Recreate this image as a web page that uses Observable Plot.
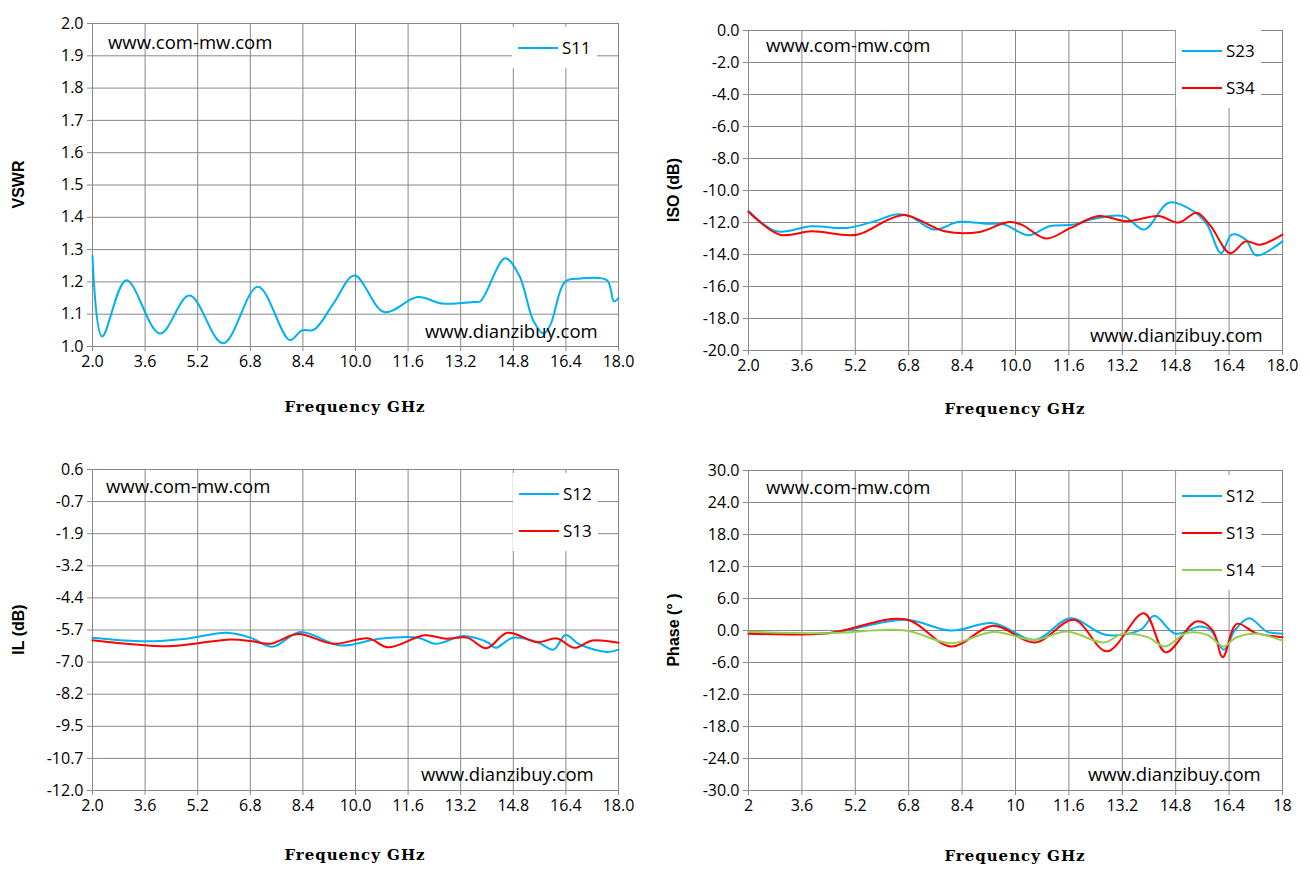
<!DOCTYPE html>
<html><head><meta charset="utf-8">
<script src="https://cdn.jsdelivr.net/npm/d3@7"></script>
<script src="https://cdn.jsdelivr.net/npm/@observablehq/plot@0.6"></script>
<style>
body{margin:0;background:#fff;width:1310px;height:878px;position:relative;overflow:hidden;font-family:"Liberation Sans",Arial,sans-serif}
.p{position:absolute}
.wm{position:absolute;font-size:18.5px;color:#000;font-family:"Open Sans","Liberation Sans",sans-serif}
.leg{position:absolute;background:#fff;font-size:17px;font-family:"Open Sans","Liberation Sans",sans-serif;padding:2px 6px}
.leg div{height:37px;display:flex;align-items:center}
.leg span{display:inline-block;width:40px;height:2px;margin-right:4px}
</style></head><body>
<script>
const xTicks=[2.0,3.6,5.2,6.8,8.4,10.0,11.6,13.2,14.8,16.4,18.0];
const vswrTicks=[1.0,1.1,1.2,1.3,1.4,1.5,1.6,1.7,1.8,1.9,2.0];
const isoTicks=[0,-2,-4,-6,-8,-10,-12,-14,-16,-18,-20];
const ilTicks=[0.6,-0.66,-1.92,-3.18,-4.44,-5.7,-6.96,-8.22,-9.48,-10.74,-12.0];
const phTicks=[30,24,18,12,6,0,-6,-12,-18,-24,-30];

const s11=[[2,1.28],[2.29,1.031],[3.03,1.205],[4.05,1.04],[4.95,1.158],[5.97,1.01],[7.03,1.185],[8.0,1.02],[8.37,1.05],[8.74,1.052],[9.33,1.133],[9.97,1.22],[10.87,1.107],[11.89,1.153],[12.63,1.133],[13.6,1.138],[13.8,1.14],[14.55,1.273],[14.98,1.22],[15.41,1.08],[15.73,1.04],[15.94,1.07],[16.37,1.2],[16.8,1.21],[17.65,1.205],[17.86,1.14],[18,1.15]];
const s23=[[2,-11.28],[2.84,-12.55],[3.89,-12.23],[4.94,-12.34],[5.78,-11.92],[6.41,-11.5],[6.83,-11.6],[7.56,-12.44],[8.3,-11.96],[9.13,-12.08],[9.66,-12.13],[10.39,-12.8],[11.02,-12.23],[11.76,-12.13],[12.28,-11.8],[13.23,-11.6],[13.86,-12.44],[14.59,-10.76],[15.32,-11.28],[15.74,-12.13],[16.16,-13.92],[16.48,-12.76],[16.9,-13.07],[17.21,-14.06],[18,-13.18]];
const s34=[[2,-11.33],[2.94,-12.76],[3.89,-12.55],[5.25,-12.76],[6.2,-11.81],[6.72,-11.54],[7.88,-12.55],[8.93,-12.59],[9.76,-11.98],[10.18,-12.13],[10.92,-13.0],[11.65,-12.34],[12.49,-11.6],[13.33,-11.92],[14.28,-11.6],[14.9,-12.0],[15.43,-11.39],[15.85,-12.23],[16.43,-13.92],[16.9,-13.18],[17.32,-13.39],[18,-12.76]];
const il12=[[2,-6.0],[3.6,-6.14],[4.86,-6.04],[6.08,-5.81],[6.8,-6.0],[7.47,-6.36],[8.32,-5.78],[9.55,-6.31],[10.73,-6.04],[11.9,-6.0],[12.44,-6.24],[13.29,-5.94],[14.04,-6.2],[14.26,-6.4],[14.79,-6.0],[15.54,-6.18],[16.02,-6.47],[16.39,-5.9],[16.82,-6.27],[17.67,-6.56],[18,-6.47]];
const il13=[[2,-6.1],[4.3,-6.34],[5.15,-6.23],[6.2,-6.07],[6.86,-6.14],[7.4,-6.24],[8.25,-5.86],[9.33,-6.24],[10.4,-6.03],[10.98,-6.38],[12.1,-5.91],[12.75,-6.04],[13.4,-6.0],[13.98,-6.42],[14.62,-5.81],[15.54,-6.18],[16.13,-6.03],[16.66,-6.4],[17.2,-6.11],[18,-6.2]];
const ph12=[[2,-0.3],[4.39,-0.5],[6.7,2.0],[8.07,0],[9.33,1.38],[10.59,-1.75],[11.64,2.3],[12.69,-0.8],[13.74,0.1],[14.16,2.75],[14.79,-0.6],[15.53,0.75],[15.84,0.1],[16.24,-3.6],[16.58,0.1],[17.0,2.3],[17.53,-0.2],[18,-0.6]];
const ph13=[[2,-0.6],[4.39,-0.5],[6.7,2.1],[8.07,-3.0],[9.33,0.9],[10.59,-2.25],[11.75,2.0],[12.74,-3.9],[13.85,3.25],[14.5,-4.1],[15.42,1.7],[15.9,0.1],[16.21,-5.0],[16.63,1.25],[17.21,-0.5],[18,-1.25]];
const ph14=[[2,-0.25],[4.39,-0.5],[6.7,0],[8.07,-2.4],[9.33,-0.3],[10.59,-1.75],[11.54,-0.2],[12.64,-2.25],[13.22,-0.6],[13.96,-1.25],[14.48,-3.0],[15.11,-0.5],[15.74,-0.8],[16.24,-3.0],[16.58,-1.4],[17.21,-0.6],[18,-1.9]];

const BLUE="#00B0F0",RED="#FF0000",GREEN="#92D050";

function panel(o){
  const p=Plot.plot({
    width:655,height:439,
    marginLeft:o.ml,marginRight:o.mr,marginTop:o.mt,marginBottom:o.mb,
    style:{fontFamily:"'Open Sans','Liberation Sans',sans-serif",fontSize:"16px",color:"#000",background:"#fff"},
    x:{domain:[2,18],ticks:xTicks,tickFormat:o.xf,tickSize:5,tickPadding:6,label:null},
    y:{domain:o.yd,ticks:o.yt,tickFormat:d=>d.toFixed(1),tickSize:5,tickPadding:4,label:null},
    marks:[
      Plot.gridX(xTicks,{stroke:"#888",strokeOpacity:1}),
      Plot.gridY(o.yt,{stroke:"#888",strokeOpacity:1}),
      Plot.ruleX([2],{stroke:"#888"}),
      Plot.ruleY([o.yd[0]],{stroke:"#888"}),
      Plot.axisX({ticks:xTicks,tickFormat:o.xf,tickSize:5,stroke:"#888",fontSize:16,label:null}),
      Plot.axisY({ticks:o.yt,tickFormat:d=>d.toFixed(1),tickSize:5,stroke:"#888",fontSize:16,label:null}),
      ...o.series.map(s=>Plot.line(s.d,{x:d=>d[0],y:d=>d[1],stroke:s.c,strokeWidth:2,curve:"catmull-rom"}))
    ]
  });
  p.classList.add("p");p.style.left=o.x+"px";p.style.top=o.y+"px";
  const svg=d3.select(p);
  svg.append("text").attr("x",o.ml+(655-o.ml-o.mr)/2).attr("y",o.xly).attr("text-anchor","middle")
    .attr("font-family","'DejaVu Serif','Liberation Serif',serif").attr("font-weight","bold").attr("font-size",15)
    .attr("letter-spacing","1px").text("Frequency GHz");
  svg.append("text").attr("transform",`translate(${o.ylx},${o.mt+(439-o.mt-o.mb)/2}) rotate(-90)`).attr("text-anchor","middle")
    .attr("font-weight","bold").attr("font-size",16).attr("font-family","'Liberation Sans',Arial,sans-serif").text(o.yl);
  document.body.appendChild(p);
}
const fmt1=d=>d.toFixed(1), fmt0=d=>String(+d.toFixed(1));
panel({x:0,y:0,ml:92,mr:37,mt:23,mb:93,yd:[1,2],yt:vswrTicks,xf:fmt1,xly:412,ylx:24,yl:"VSWR",series:[{d:s11,c:BLUE}]});
panel({x:655,y:0,ml:93,mr:28,mt:30,mb:89,yd:[-20,0],yt:isoTicks,xf:fmt1,xly:414,ylx:24,yl:"ISO (dB)",series:[{d:s23,c:BLUE},{d:s34,c:RED}]});
panel({x:0,y:439,ml:92,mr:37,mt:30,mb:88,yd:[-12,0.6],yt:ilTicks,xf:fmt1,xly:421,ylx:24,yl:"IL (dB)",series:[{d:il12,c:BLUE},{d:il13,c:RED}]});
panel({x:655,y:439,ml:93,mr:28,mt:31,mb:88,yd:[-30,30],yt:phTicks,xf:fmt0,xly:422,ylx:24,yl:"Phase (° )",series:[{d:ph12,c:BLUE},{d:ph13,c:RED},{d:ph14,c:GREEN}]});

function wm(t,x,y){const d=document.createElement("div");d.className="wm";d.style.left=x+"px";d.style.top=y+"px";d.textContent=t;document.body.appendChild(d);}
wm("www.com-mw.com",108,29);wm("www.dianzibuy.com",425,318);
wm("www.com-mw.com",766,32);wm("www.dianzibuy.com",1090,322);
wm("www.com-mw.com",106,473);wm("www.dianzibuy.com",421,761);
wm("www.com-mw.com",766,474);wm("www.dianzibuy.com",1088,761);
function leg(x,y,items){const d=document.createElement("div");d.className="leg";d.style.left=x+"px";d.style.top=y+"px";
  d.innerHTML=items.map(i=>`<div><span style="background:${i[1]}"></span>${i[0]}</div>`).join("");document.body.appendChild(d);}
leg(512,27,[["S11",BLUE]]);
leg(1176,30,[["S23",BLUE],["S34",RED]]);
leg(513,473,[["S12",BLUE],["S13",RED]]);
leg(1176,475,[["S12",BLUE],["S13",RED],["S14",GREEN]]);
</script>
</body></html>
